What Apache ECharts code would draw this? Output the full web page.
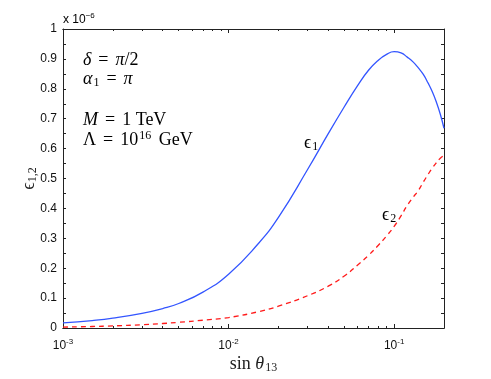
<!DOCTYPE html>
<html>
<head>
<meta charset="utf-8">
<script src="https://cdn.jsdelivr.net/npm/echarts@6/dist/echarts.min.js"></script>
<style>
  html, body { margin: 0; padding: 0; background: #fff; }
  #chart { width: 491px; height: 379px; }
</style>
</head>
<body>
<div id="chart"></div>
<script>
// sin theta13 samples
const sinTheta = [0.001, 0.0015, 0.002, 0.003, 0.004, 0.005, 0.007, 0.01, 0.015, 0.02, 0.03, 0.04,
  0.05, 0.06, 0.07, 0.08, 0.09, 0.1, 0.11, 0.12, 0.13, 0.14, 0.15, 0.16, 0.17, 0.18, 0.19, 0.2]
// epsilon_1 (x 1e-6)
const eps1 = [0.017, 0.025, 0.033, 0.049, 0.065, 0.082, 0.12, 0.18, 0.28, 0.37, 0.53, 0.65,
  0.74, 0.81, 0.862, 0.895, 0.915, 0.924, 0.92, 0.906, 0.89, 0.87, 0.848, 0.82, 0.79, 0.755, 0.715, 0.668]
// epsilon_2 (x 1e-6)
const eps2 = [0.003, 0.005, 0.007, 0.011, 0.015, 0.019, 0.026, 0.035, 0.054, 0.073, 0.108, 0.14,
  0.174, 0.21, 0.243, 0.276, 0.308, 0.34, 0.375, 0.41, 0.437, 0.46, 0.488, 0.513, 0.535, 0.553, 0.568, 0.577]

const xMajor = [0.001, 0.01, 0.1]
const xMinor = [0.002, 0.003, 0.004, 0.005, 0.006, 0.007, 0.008, 0.009,
  0.02, 0.03, 0.04, 0.05, 0.06, 0.07, 0.08, 0.09, 0.2]
const yLabels = [0, 0.1, 0.2, 0.3, 0.4, 0.5, 0.6, 0.7, 0.8, 0.9, 1]
const yTicks = [0, 0.05, 0.1, 0.15, 0.2, 0.25, 0.3, 0.35, 0.4, 0.45, 0.5, 0.55,
  0.6, 0.65, 0.7, 0.75, 0.8, 0.85, 0.9, 0.95, 1]

const chart = echarts.init(document.getElementById('chart'))

const sans = '"Liberation Sans", Arial, sans-serif'
const serif = '"Liberation Serif", "DejaVu Serif", serif'
const lineCol = '#222'

function pair(xs, ys) {
  return xs.map((x, i) => [x, ys[i]])
}

const supRich = {
  b: { fontFamily: sans, fontSize: 12, color: '#111', lineHeight: 14 },
  s: { fontFamily: sans, fontSize: 8, color: '#111', padding: [0, 0, 8, 0] }
}

const mathRich = {
  t: { fontFamily: serif, fontSize: 18, color: '#222' },
  i: { fontFamily: serif, fontSize: 18, fontStyle: 'italic', color: '#222' },
  eq: { fontFamily: serif, fontSize: 18, color: '#222', padding: [0, 7, 0, 7] },
  sub: { fontFamily: serif, fontSize: 12, color: '#222', padding: [7, 0, 0, 1] },
  sup: { fontFamily: serif, fontSize: 12, color: '#222', padding: [0, 3, 9, 1] }
}

// log axis used for x ticks, one per (position, tick kind)
function logAxis(pos, ticks, len, withLabel) {
  return {
    type: 'log',
    min: 0.001,
    max: 0.2,
    position: pos,
    axisLine: { show: true, lineStyle: { color: lineCol, width: 1 } },
    axisTick: { show: true, inside: true, length: len, customValues: ticks, lineStyle: { color: lineCol } },
    axisLabel: withLabel ? {
      customValues: xMajor,
      margin: 10,
      formatter: v => '{b|10}{s|' + Math.round(Math.log10(v)) + '}',
      rich: supRich
    } : { show: false },
    splitLine: { show: false }
  }
}

const xBottom = logAxis('bottom', xMajor, 4, true)
xBottom.name = '{t|sin }{i|θ}{sub|13}'
xBottom.nameLocation = 'middle'
xBottom.nameGap = 27
xBottom.nameMoveOverlap = false
xBottom.nameTextStyle = { rich: mathRich }

chart.setOption({
  animation: false,
  grid: { left: 63, right: 47, top: 29, bottom: 43, containLabel: false },
  xAxis: [
    xBottom,
    logAxis('bottom', xMinor, 2, false),
    logAxis('top', xMajor, 4, false),
    logAxis('top', xMinor, 2, false)
  ],
  yAxis: [{
    type: 'value',
    min: 0,
    max: 1,
    interval: 0.1,
    position: 'left',
    name: '{e|ϵ}{sub|1,2}',
    nameLocation: 'middle',
    nameGap: 24,
    nameMoveOverlap: false,
    nameTextStyle: {
      rich: {
        e: { fontFamily: serif, fontSize: 18, color: '#222' },
        sub: { fontFamily: serif, fontSize: 12, color: '#222', padding: [7, 0, 0, 0] }
      }
    },
    axisLine: { show: true, lineStyle: { color: lineCol, width: 1 } },
    axisTick: { show: true, inside: true, length: 3, customValues: yTicks, lineStyle: { color: lineCol } },
    axisLabel: {
      customValues: yLabels,
      fontFamily: sans,
      fontSize: 12,
      color: '#111',
      margin: 6
    },
    splitLine: { show: false }
  }, {
    type: 'value',
    min: 0,
    max: 1,
    interval: 0.1,
    position: 'right',
    axisLine: { show: true, lineStyle: { color: lineCol, width: 1 } },
    axisTick: { show: true, inside: true, length: 3, customValues: yTicks, lineStyle: { color: lineCol } },
    axisLabel: { show: false },
    splitLine: { show: false }
  }],
  series: [{
    name: 'eps1',
    type: 'line',
    smooth: 0.5,
    symbol: 'none',
    data: pair(sinTheta, eps1),
    lineStyle: { color: '#3355ff', width: 1.3 }
  }, {
    name: 'eps2',
    type: 'line',
    smooth: 0.5,
    symbol: 'none',
    data: pair(sinTheta, eps2),
    lineStyle: { color: '#ff1a1a', width: 1.3, type: [5, 4] }
  }],
  graphic: [{
    type: 'text',
    left: 63,
    top: 12,
    style: { text: '{b|x 10}{s|−6}', rich: supRich }
  }, {
    type: 'text',
    left: 83,
    top: 51,
    style: { text: '{i|δ}{eq|=}{i|π}{t|/2}', rich: mathRich }
  }, {
    type: 'text',
    left: 83,
    top: 70,
    style: { text: '{i|α}{sub|1}{eq|=}{i|π}', rich: mathRich }
  }, {
    type: 'text',
    left: 83,
    top: 111,
    style: { text: '{i|M}{eq|=}{t|1 TeV}', rich: mathRich }
  }, {
    type: 'text',
    left: 83,
    top: 130,
    style: { text: '{t|Λ}{eq|=}{t|10}{sup|16}{t| GeV}', rich: mathRich }
  }, {
    type: 'text',
    left: 304,
    top: 134,
    style: { text: '{t|ϵ}{sub|1}', rich: mathRich }
  }, {
    type: 'text',
    left: 382,
    top: 206,
    style: { text: '{t|ϵ}{sub|2}', rich: mathRich }
  }]
})
</script>
</body>
</html>
